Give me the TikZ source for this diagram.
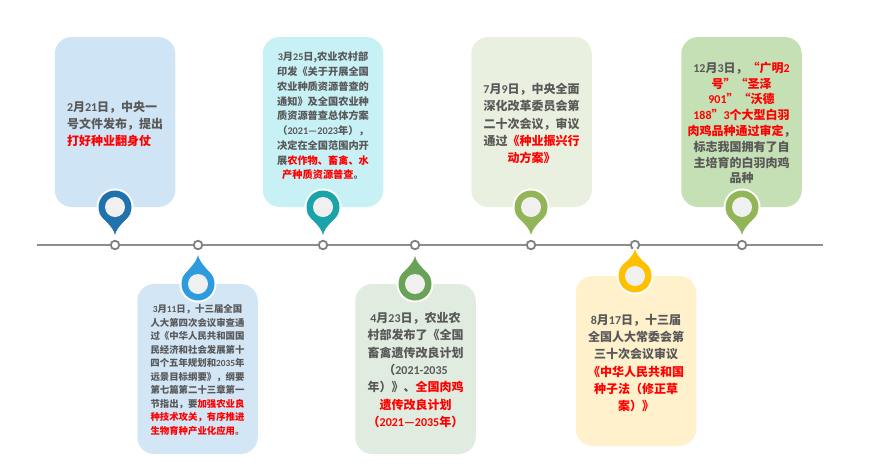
\documentclass[tikz,border=0pt]{standalone}
\usepackage{fontspec}
\setmainfont{Noto Sans CJK SC}
\newfontfamily\latn{Carlito}
\newcommand{\la}[1]{{\latn #1}}
\newcommand{\rd}[1]{\textcolor{hot}{#1}}
\definecolor{hot}{HTML}{FF0000}
\definecolor{ink}{HTML}{595959}
\definecolor{axis}{HTML}{8E8E8E}
\definecolor{dotline}{HTML}{7F7F7F}
\newcommand{\pinmark}[6]{% x, y, direction(+1 tip down,-1 tip up), length, colour, name
  \begin{scope}[shift={(#1,#2)},yscale=#3]
    \path[fill=white,draw=white,line width=4pt,line join=round] (0,0) circle[radius=16.5pt];
    \path[fill=white,draw=white,line width=4pt,line join=round] (-15.6,6) .. controls (-11,14) and (-2,#4-9) .. (0,#4) .. controls (2,#4-9) and (11,14) .. (15.6,6) -- cycle;
    \path[fill=#5] (0,0) circle[radius=16.5pt];
    \path[fill=#5] (-15.6,6) .. controls (-11,14) and (-2,#4-9) .. (0,#4) .. controls (2,#4-9) and (11,14) .. (15.6,6) -- cycle;
  \end{scope}
  \node[pinhole] (#6) at (#1,#2) {};
}
\tikzset{
  cardbox/.style={draw=none,rounded corners=17pt,minimum width=120.5pt,minimum height=170pt,inner sep=0pt},
  cardtext/.style={text=ink,align=center,inner sep=0pt,font=\bfseries},
  pinhole/.style={circle,fill=black!6,minimum size=20pt,inner sep=0pt},
  tick/.style={circle,draw=dotline,line width=1.8pt,fill=white,minimum size=8.5pt,inner sep=0pt},
  axisline/.style={draw=axis,line width=1.5pt}
}
\begin{document}
\begin{tikzpicture}[x=1pt,y=-1pt]
\path[use as bounding box,fill=white] (0,0) rectangle (874,469);
\coordinate (la) at (37,245);
\coordinate (lb) at (823,245);
\draw[axisline] (la) -- (lb);
\foreach \n/\x in {1/115,2/198,3/323,4/415,5/531,6/635,7/742}
  \node[tick] (d\n) at (\x,245) {};

% cards
\node[cardbox,fill={rgb,255:red,207;green,228;blue,244}] (b1) at (115,122) {};
\node[cardbox,fill={rgb,255:red,211;green,230;blue,246}] (b2) at (197.5,369) {};
\node[cardbox,fill={rgb,255:red,200;green,241;blue,246}] (b3) at (323,122) {};
\node[cardbox,fill={rgb,255:red,224;green,236;blue,223}] (b4) at (415.5,369) {};
\node[cardbox,fill={rgb,255:red,234;green,240;blue,223}] (b5) at (531.5,122) {};
\node[cardbox,fill={rgb,255:red,255;green,241;blue,204}] (b6) at (636,361) {};
\node[cardbox,fill={rgb,255:red,197;green,224;blue,180}] (b7) at (741.5,122) {};

% pins
\pinmark{115}{207}{1}{28}{{rgb,255:red,31;green,114;blue,172}}{p1}
\pinmark{198}{284}{-1}{29}{{rgb,255:red,46;green,155;blue,222}}{p2}
\pinmark{323}{207}{1}{28}{{rgb,255:red,26;green,163;blue,168}}{p3}
\pinmark{415}{284}{-1}{28}{{rgb,255:red,106;green,163;blue,88}}{p4}
\pinmark{531}{207}{1}{28}{{rgb,255:red,146;green,181;blue,88}}{p5}
\pinmark{635}{276}{-1}{27}{{rgb,255:red,255;green,192;blue,0}}{p6}
\pinmark{742}{207}{1}{28}{{rgb,255:red,146;green,181;blue,88}}{p7}

% texts
\node[cardtext,font=\bfseries\fontsize{12}{17}\selectfont,align=left] (t1) at (115,123.5) {\la{2}月\la{21}日，中央一\\号文件发布，提出\\\rd{打好种业翻身仗}};

\node[cardtext,font=\bfseries\fontsize{9.4}{13.5}\selectfont] (t2) at (197.5,370) {\la{3}月\la{11}日，十三届全国\\人大第四次会议审查通\\过《中华人民共和国国\\民经济和社会发展第十\\四个五年规划和\la{2035}年\\远景目标纲要》，纲要\\第七篇第二十三章第一\\节指出，要\rd{加强农业良}\\\rd{种技术攻关，有序推进}\\\rd{生物育种产业化应用}。};

\node[cardtext,font=\bfseries\fontsize{10.2}{14.75}\selectfont] (t3) at (323,116) {\la{3}月\la{25}日,农业农村部\\印发《关于开展全国\\农业种质资源普查的\\通知》及全国农业种\\质资源普查总体方案\\（\la{2021—2023}年），\\决定在全国范围内开\\展\rd{农作物、畜禽、水}\\\rd{产种质资源普查}。};

\node[cardtext,font=\bfseries\fontsize{12}{17.3}\selectfont] (t4) at (415.5,370) {\la{4}月\la{23}日，农业农\\村部发布了《全国\\畜禽遗传改良计划\\（\la{2021-2035}\\年）》、\rd{全国肉鸡}\\\rd{遗传改良计划}\\\rd{（\la{2021—2035}年）}};

\node[cardtext,font=\bfseries\fontsize{12}{17.2}\selectfont] (t5) at (531.5,123.5) {\la{7}月\la{9}日，中央全面\\深化改革委员会第\\二十次会议，审议\\通过\rd{《种业振兴行}\\\rd{动方案》}};

\node[cardtext,font=\bfseries\fontsize{12}{17.2}\selectfont] (t6) at (636,363) {\la{8}月\la{17}日，十三届\\全国人大常委会第\\三十次会议审议\\\rd{《中华人民共和国}\\\rd{种子法（修正草}\\\rd{案）》}};

\node[cardtext,font=\bfseries\fontsize{12}{15.8}\selectfont] (t7) at (741.5,123) {\la{12}月\la{3}日，\rd{“广明\la{2}}\\\rd{号”“圣泽}\\\rd{\la{901}”“沃德}\\\rd{\la{188}”\la{3}个大型白羽}\\\rd{肉鸡品种通过审定}，\\标志我国拥有了自\\主培育的白羽肉鸡\\品种};
\end{tikzpicture}
\end{document}
